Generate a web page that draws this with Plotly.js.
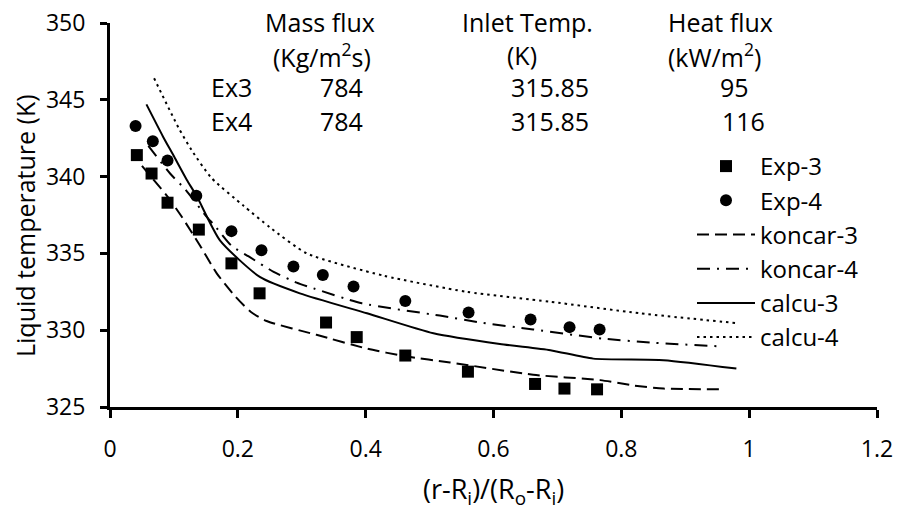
<!DOCTYPE html>
<html>
<head>
<meta charset="utf-8">
<script src="https://cdn.plot.ly/plotly-3.0.1.min.js"></script>
<style>
  html, body { margin: 0; padding: 0; background: #ffffff; }
  #chart { width: 898px; height: 511px; }
</style>
</head>
<body>
<div id="chart"></div>
<script>
// ---- Data ----
const exp3X = [0.042, 0.065, 0.090, 0.139, 0.190, 0.234, 0.338, 0.386, 0.462, 0.560, 0.665, 0.711, 0.762];
const exp3Y = [341.4, 340.2, 338.3, 336.55, 334.35, 332.4, 330.5, 329.55, 328.35, 327.3, 326.5, 326.2, 326.15];

const exp4X = [0.040, 0.067, 0.090, 0.135, 0.190, 0.237, 0.287, 0.333, 0.381, 0.462, 0.561, 0.658, 0.719, 0.766];
const exp4Y = [343.3, 342.3, 341.05, 338.75, 336.45, 335.2, 334.15, 333.6, 332.85, 331.9, 331.15, 330.7, 330.2, 330.05];

const koncar3X = [0.050, 0.066, 0.090, 0.112, 0.141, 0.167, 0.196, 0.220, 0.245, 0.323, 0.402, 0.462, 0.532, 0.662, 0.767, 0.819, 0.866, 0.955];
const koncar3Y = [340.7, 339.9, 338.7, 337.4, 335.5, 333.7, 332.2, 331.2, 330.6, 329.7, 328.8, 328.3, 327.9, 327.1, 326.75, 326.4, 326.2, 326.15];

const koncar4X = [0.060, 0.094, 0.117, 0.151, 0.164, 0.190, 0.217, 0.256, 0.292, 0.313, 0.394, 0.516, 0.579, 0.662, 0.772, 0.845, 0.952];
const koncar4Y = [342.0, 340.2, 339.2, 337.4, 336.8, 335.5, 334.8, 333.8, 333.1, 332.8, 331.75, 330.95, 330.5, 330.05, 329.45, 329.2, 328.95];

const calcu3X = [0.057, 0.083, 0.099, 0.120, 0.136, 0.172, 0.235, 0.297, 0.402, 0.506, 0.610, 0.689, 0.756, 0.866, 0.980];
const calcu3Y = [344.7, 342.6, 341.4, 339.8, 338.7, 335.85, 333.45, 332.4, 331.1, 329.8, 329.1, 328.7, 328.15, 328.05, 327.5];

const calcu4X = [0.069, 0.107, 0.128, 0.159, 0.209, 0.250, 0.308, 0.428, 0.558, 0.689, 0.829, 0.983];
const calcu4Y = [346.4, 343.2, 341.7, 339.9, 338.1, 336.7, 335.0, 333.55, 332.5, 331.85, 331.1, 330.45];

const seriesNames = ["Exp-3", "Exp-4", "koncar-3", "koncar-4", "calcu-3", "calcu-4"];

// header table text
const tableHeaders = ["Mass flux", "Inlet Temp.", "Heat flux"];
const tableUnits = ["(Kg/m<sup>2</sup>s)", "(K)", "(kW/m<sup>2</sup>)"];
const rowLabels = ["Ex3", "Ex4"];
const massFlux = ["784", "784"];
const inletTemp = ["315.85", "315.85"];
const heatFlux = ["95", "116"];

const xTitle = "(r-R<sub>i</sub>)/(R<sub>o</sub>-R<sub>i</sub>)";
const yTitle = "Liquid temperature (K)";

// ---- Layout geometry (pixels) ----
const W = 898, H = 511;
const L = 110, R = 21, T = 23, B = 104;
const PW = W - L - R, PH = H - T - B;
const px = x => (x - L) / PW;
const py = y => (H - B - y) / PH;

const FONT = "'Open Sans', 'DejaVu Sans', sans-serif";
const FS = 25;     // text
const FL = 24;     // legend
const FT = 23;     // tick labels

const lineW = 2;
const traces = [
  { x: exp3X, y: exp3Y, name: seriesNames[0], mode: "markers", type: "scatter",
    marker: { symbol: "square", size: 12, color: "#000" } },
  { x: exp4X, y: exp4Y, name: seriesNames[1], mode: "markers", type: "scatter",
    marker: { symbol: "circle", size: 12, color: "#000" } },
  { x: koncar3X, y: koncar3Y, name: seriesNames[2], mode: "lines", type: "scatter",
    line: { color: "#000", width: lineW, dash: "12px,6px", shape: "spline", smoothing: 0.6 } },
  { x: koncar4X, y: koncar4Y, name: seriesNames[3], mode: "lines", type: "scatter",
    line: { color: "#000", width: lineW, dash: "13px,7px,2px,7px", shape: "spline", smoothing: 0.6 } },
  { x: calcu3X, y: calcu3Y, name: seriesNames[4], mode: "lines", type: "scatter",
    line: { color: "#000", width: lineW, shape: "spline", smoothing: 0.6 } },
  { x: calcu4X, y: calcu4Y, name: seriesNames[5], mode: "lines", type: "scatter",
    line: { color: "#000", width: lineW, dash: "2.5px,4px", shape: "spline", smoothing: 0.6 } }
];

const ann = [];
function addText(text, xp, yp, opts) {
  ann.push(Object.assign({
    text: text, xref: "paper", yref: "paper", x: px(xp), y: py(yp),
    xanchor: "center", yanchor: "middle", showarrow: false,
    font: { family: FONT, size: FS, color: "#000" }
  }, opts || {}));
}
// header table
const colX = [320, 527, 720];
const unitX = [322, 522, 714];
tableHeaders.forEach((t, i) => addText(t, colX[i], 22));
tableUnits.forEach((t, i) => addText(t, unitX[i], 55));
const rowY = [87, 121];
rowLabels.forEach((t, i) => addText(t, 231, rowY[i]));
massFlux.forEach((t, i) => addText(t, 341, rowY[i]));
inletTemp.forEach((t, i) => addText(t, 550, rowY[i]));
heatFlux.forEach((t, i) => addText(t, i === 0 ? 734 : 743, rowY[i]));
// axis titles
addText(xTitle, 493, 490, { font: { family: FONT, size: 27, color: "#000" } });
addText(yTitle, 25, 226, { textangle: -90 });

const layout = {
  width: W, height: H,
  margin: { l: L, r: R, t: T, b: B, pad: 0 },
  paper_bgcolor: "#fff", plot_bgcolor: "#fff",
  font: { family: FONT, size: FS, color: "#000" },
  showlegend: true,
  legend: {
    x: px(692), y: py(144), xanchor: "left", yanchor: "top",
    bgcolor: "rgba(0,0,0,0)", borderwidth: 0,
    font: { family: FONT, size: FL, color: "#000" },
    itemwidth: 58, tracegroupgap: 0
  },
  xaxis: {
    range: [0, 1.2], tick0: 0, dtick: 0.2, showgrid: false, zeroline: false,
    showline: true, linecolor: "#000", linewidth: 3,
    ticks: "outside", ticklen: 8, tickwidth: 3, tickcolor: "#000",
    ticklabelstandoff: 11,
    tickfont: { family: FONT, size: FT, color: "#000" }
  },
  yaxis: {
    range: [325, 350], tick0: 325, dtick: 5, showgrid: false, zeroline: false,
    showline: true, linecolor: "#000", linewidth: 3,
    ticks: "outside", ticklen: 7, tickwidth: 3, tickcolor: "#000",
    ticklabelstandoff: 10,
    tickfont: { family: FONT, size: FT, color: "#000" }
  },
  annotations: ann
};

Plotly.newPlot("chart", traces, layout, { displayModeBar: false, staticPlot: true });
</script>
</body>
</html>
